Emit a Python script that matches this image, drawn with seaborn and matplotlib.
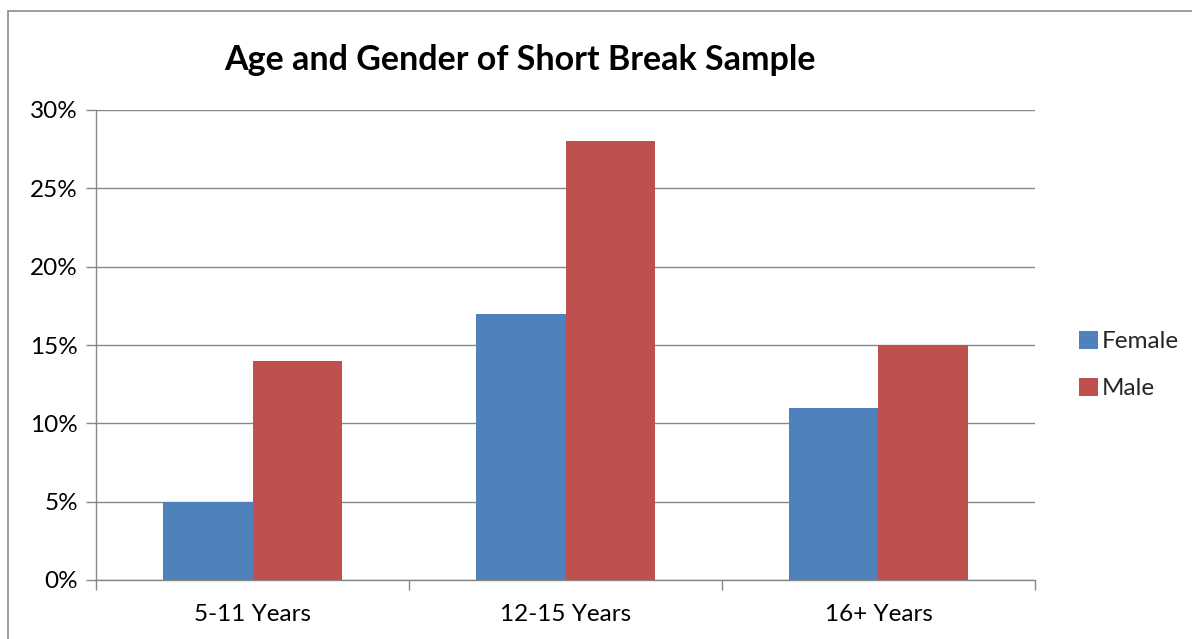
import matplotlib
matplotlib.use("Agg")
import matplotlib.pyplot as plt
from matplotlib.lines import Line2D
from matplotlib.ticker import FuncFormatter, FixedLocator
import seaborn as sns
import pandas as pd

# Share of the short break sample by age band and gender (percent)
age_groups = ["5-11 Years", "12-15 Years", "16+ Years"]
female = [5, 17, 11]
male = [14, 28, 15]
genders = ["Female", "Male"]
y_ticks = [0, 5, 10, 15, 20, 25, 30]

df = pd.DataFrame({
    "Age": age_groups * 2,
    "Gender": ["Female"] * len(age_groups) + ["Male"] * len(age_groups),
    "Share": female + male,
})

sns.set_theme(style="white")
plt.rcParams["font.family"] = ["Lato", "DejaVu Sans"]

W, H = 1192, 639
fig = plt.figure(figsize=(W / 100, H / 100), dpi=100)
ax = fig.add_axes([96 / W, 59 / H, (1035 - 96) / W, (580 - 110) / H])

palette = {"Female": "#4F81BD", "Male": "#C0504D"}
sns.barplot(data=df, x="Age", y="Share", hue="Gender", hue_order=genders,
            order=age_groups, palette=palette, width=0.572, saturation=1,
            edgecolor="none", linewidth=0, ax=ax, zorder=3, legend=True)

grid_c = "#878787"
ax.set_xlim(-0.5, 2.5)
ax.set_ylim(0, 30)
ax.yaxis.set_major_locator(FixedLocator(y_ticks))
ax.yaxis.set_major_formatter(FuncFormatter(lambda v, p: f"{int(v)}%"))
ax.grid(axis="y", color=grid_c, linewidth=1.0, zorder=0)
ax.grid(axis="x", visible=False)
ax.set_xlabel("")
ax.set_ylabel("")

for side in ["top", "right"]:
    ax.spines[side].set_visible(False)
for side in ["left", "bottom"]:
    ax.spines[side].set_color(grid_c)
    ax.spines[side].set_linewidth(1.0)

fs = 17.5
ax.tick_params(axis="y", which="major", direction="out", length=7, width=1,
               color=grid_c, labelsize=fs, pad=6, labelcolor="black", left=True)
# category labels centred, tick marks at the category boundaries
ax.set_xticks([0, 1, 2])
ax.set_xticklabels(age_groups)
ax.tick_params(axis="x", which="major", length=0, labelsize=fs, pad=17,
               labelcolor="black")
ax.set_xticks([-0.5, 0.5, 1.5, 2.5], minor=True)
ax.tick_params(axis="x", which="minor", direction="out", length=7, width=1,
               color=grid_c, bottom=True)

handles, labels = ax.get_legend_handles_labels()
ax.legend(handles, labels, loc="center left", bbox_to_anchor=(1.036, 0.457),
          frameon=False, fontsize=fs, handlelength=0.8, handleheight=0.75,
          handletextpad=0.15, labelspacing=1.05, borderaxespad=0)

fig.text(520 / W, 1 - 60 / H, "Age and Gender of Short Break Sample",
         ha="center", va="center", fontsize=24.5, fontweight="bold",
         color="black")

# outer chart frame (left and top edges fall inside the image)
frame_c = "#8C8C8C"
fig.add_artist(Line2D([8 / W, 8 / W], [0, 1 - 11 / H], transform=fig.transFigure,
                      color=frame_c, linewidth=1.2))
fig.add_artist(Line2D([8 / W, 1], [1 - 11 / H, 1 - 11 / H],
                      transform=fig.transFigure, color=frame_c, linewidth=1.2))

fig.savefig("out.png", dpi=100)
